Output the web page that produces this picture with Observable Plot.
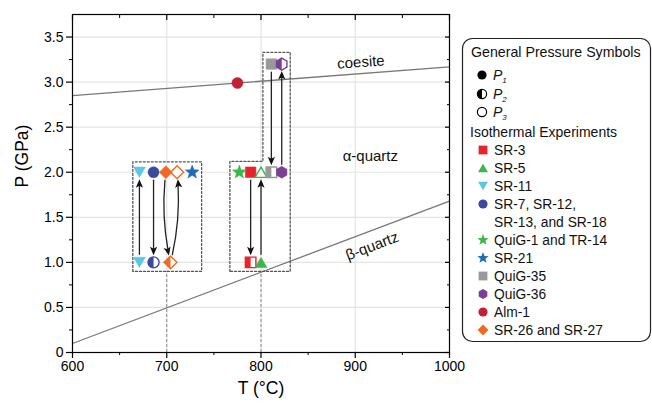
<!DOCTYPE html>
<html>
<head>
<meta charset="utf-8">
<script src="https://cdn.jsdelivr.net/npm/d3@7"></script>
<script src="https://cdn.jsdelivr.net/npm/@observablehq/plot@0.6"></script>
<style>
  html, body { margin: 0; padding: 0; background: #fff; }
  #wrap { position: relative; width: 652px; height: 404px; }
  #wrap svg { position: absolute; left: 0; top: 0; }
</style>
</head>
<body>
<div id="wrap"></div>
<script>
// Samples: id, legend label, colour, marker shape
const sampleIds = ["SR-3", "SR-5", "SR-11", "SR-7", "QuiG-1", "SR-21", "QuiG-35", "QuiG-36", "Alm-1", "SR-26"];
const sampleLabels = ["SR-3", "SR-5", "SR-11", "SR-7, SR-12,|SR-13, and SR-18", "QuiG-1 and TR-14", "SR-21", "QuiG-35", "QuiG-36", "Alm-1", "SR-26 and SR-27"];
const sampleColors = ["#e8232b", "#3db54a", "#5cc6e6", "#3a4b9f", "#3db54a", "#1b6cb5", "#999999", "#7b3f98", "#c41f35", "#f26a21"];
const sampleShapes = ["square", "triangle", "triangleDown", "circle", "star", "star", "square", "hexagon", "circle", "diamond"];

// Experiments: temperature (°C), pressure (GPa), sample, pressure step (P1 full, P2 half, P3 open)
const pointT = [671, 686, 699, 711, 727, 671, 686, 704, 777, 789, 800, 811, 822, 789, 800, 811, 822, 775];
const pointP = [2.0, 2.0, 2.0, 2.0, 2.0, 1.0, 1.0, 1.0, 2.0, 2.0, 2.0, 2.0, 2.0, 1.0, 1.0, 3.2, 3.2, 2.99];
const pointSample = ["SR-11", "SR-7", "SR-26", "SR-26", "SR-21", "SR-11", "SR-7", "SR-26", "QuiG-1", "SR-3", "SR-5", "QuiG-35", "QuiG-36", "SR-3", "SR-5", "QuiG-35", "QuiG-36", "Alm-1"];
const pointStep = ["full", "full", "full", "open", "full", "full", "half", "half", "full", "full", "open", "half", "full", "half", "full", "full", "half", "full"];

// Pressure paths between experiments
const arrowT1 = [671, 686, 699, 704, 789, 800, 811, 822];
const arrowP1 = [1.0, 2.0, 2.0, 1.0, 2.0, 1.0, 3.2, 2.0];
const arrowT2 = [671, 686, 704, 711, 789, 800, 811, 822];
const arrowP2 = [2.0, 1.0, 1.0, 2.0, 1.0, 2.0, 2.0, 3.2];
const arrowBend = [0, 0, -10, -10, 0, 0, 0, 0];

// Phase boundaries
const coesiteT = [600, 1000], coesiteP = [2.85, 3.17];
const betaT = [600, 1000], betaP = [0.1, 1.68];

// Groupings of experiments (dashed outlines)
const boxLeftT = [664, 664, 737, 737, 664];
const boxLeftP = [0.9, 2.115, 2.115, 0.9, 0.9];
const boxRightT = [767, 767, 802, 802, 831, 831, 767];
const boxRightP = [0.9, 2.12, 2.12, 3.33, 3.33, 0.9, 0.9];
const dropT = [700, 800];
const dropP = [0, 0.9];

// Phase-field labels
const fieldNames = ["coesite", "α-quartz", "β-quartz"];
const fieldT = [906, 916, 918];
const fieldP = [3.22, 2.18, 1.18];
const fieldAngle = [-4, 0, -21];

// Axis ticks
const xTicks = [600, 700, 800, 900, 1000];
const xMinor = [650, 750, 850, 950];
const yTicks = [0, 0.5, 1.0, 1.5, 2.0, 2.5, 3.0, 3.5];
const yMinor = [0.25, 0.75, 1.25, 1.75, 2.25, 2.75, 3.25];

// Frame layout
const W = 652, H = 404, mL = 72, mR = 203, mT = 14, mB = 52;
const xDomain = [600, 1000], yDomain = [0, 3.75];
const kx = (W - mL - mR) / (xDomain[1] - xDomain[0]);
const ky = (H - mT - mB) / (yDomain[1] - yDomain[0]);

// Marker geometry, scaled from the nominal radius R
const SQ3 = Math.sqrt(3);
function poly(ctx, pts) {
  ctx.moveTo(pts[0][0], pts[0][1]);
  for (let i = 1; i < pts.length; i++) ctx.lineTo(pts[i][0], pts[i][1]);
  ctx.closePath();
}
function drawShape(ctx, kind, R, half) {
  switch (kind) {
    case "circle": {
      const r = 0.92 * R;
      if (half) { ctx.moveTo(0, -r); ctx.arc(0, 0, r, -Math.PI / 2, Math.PI / 2, true); ctx.closePath(); }
      else { ctx.moveTo(r, 0); ctx.arc(0, 0, r, 0, 2 * Math.PI); ctx.closePath(); }
      break;
    }
    case "square": {
      const a = 0.88 * R;
      poly(ctx, half ? [[-a, -a], [0, -a], [0, a], [-a, a]] : [[-a, -a], [a, -a], [a, a], [-a, a]]);
      break;
    }
    case "diamond": {
      const d = 1.08 * R;
      poly(ctx, half ? [[0, -d], [0, d], [-d, 0]] : [[0, -d], [d, 0], [0, d], [-d, 0]]);
      break;
    }
    case "triangle": {
      const c = 1.15 * R, o = c / 4;
      poly(ctx, [[0, -c + o], [c * SQ3 / 2, c / 2 + o], [-c * SQ3 / 2, c / 2 + o]]);
      break;
    }
    case "triangleDown": {
      const c = 1.15 * R, o = c / 4;
      poly(ctx, [[0, c - o], [c * SQ3 / 2, -c / 2 - o], [-c * SQ3 / 2, -c / 2 - o]]);
      break;
    }
    case "star": {
      const ro = 1.2 * R, ri = 0.5 * R, pts = [];
      for (let i = 0; i < 10; i++) {
        const a = -Math.PI / 2 + i * Math.PI / 5, r = i % 2 ? ri : ro;
        pts.push([r * Math.cos(a), r * Math.sin(a)]);
      }
      poly(ctx, pts);
      break;
    }
    case "hexagon": {
      const r = 1.0 * R, w = r * SQ3 / 2;
      poly(ctx, half ? [[0, -r], [0, r], [-w, r / 2], [-w, -r / 2]]
                     : [[0, -r], [w, -r / 2], [w, r / 2], [0, r], [-w, r / 2], [-w, -r / 2]]);
      break;
    }
  }
}
const symbolOf = (kind, half) => ({draw(ctx, size) { drawShape(ctx, kind, Math.sqrt(size / Math.PI), half); }});

// Solid arrowhead pointing up, its tip set back from the marker centre
const headSymbol = {draw(ctx) {
  const tip = 7, len = 8.5, w = 3.6, notch = 6.5;
  poly(ctx, [[0, tip], [w, tip + len], [0, tip + notch], [-w, tip + len]]);
}};

const points = pointT.map((T, i) => ({T, P: pointP[i], sample: pointSample[i], step: pointStep[i]}));
const arrows = arrowT1.map((T1, i) => {
  const chord = Math.atan2(-(arrowP2[i] - arrowP1[i]) * ky, (arrowT2[i] - T1) * kx) * 180 / Math.PI;
  return {T1, P1: arrowP1[i], T2: arrowT2[i], P2: arrowP2[i], bend: arrowBend[i], angle: chord + arrowBend[i] + 90};
});
const line = (T, P) => T.map((t, i) => ({T: t, P: P[i]}));

// One set of dot marks per sample: outline, half fill, full fill
const dotMarks = sampleIds.flatMap((id, k) => {
  const color = sampleColors[k], kind = sampleShapes[k];
  const rows = points.filter(d => d.sample === id);
  const outlined = rows.filter(d => d.step !== "full");
  const halves = rows.filter(d => d.step === "half");
  const full = rows.filter(d => d.step === "full");
  const R = 6;
  return [
    Plot.dot(outlined, {x: "T", y: "P", r: R, symbol: symbolOf(kind, false), fill: "white", stroke: color, strokeWidth: 1.4}),
    Plot.dot(halves, {x: "T", y: "P", r: R, symbol: symbolOf(kind, true), fill: color, stroke: "none"}),
    Plot.dot(full, {x: "T", y: "P", r: R, symbol: symbolOf(kind, false), fill: color, stroke: color, strokeWidth: 0.5})
  ];
});

const fmtY = d => d === 0 ? "0" : d.toFixed(1);
const fmtX = d => String(d);
const blank = () => "";
const font = "Liberation Sans, Arial, Helvetica, sans-serif";

const chart = Plot.plot({
  width: W,
  height: H,
  marginLeft: mL,
  marginRight: mR,
  marginTop: mT,
  marginBottom: mB,
  x: {domain: xDomain},
  y: {domain: yDomain},
  style: {fontFamily: font, fontSize: "13.5px", color: "#000", background: "transparent"},
  marks: [
    Plot.gridX([700, 800, 900], {stroke: "#e4e4e4", strokeOpacity: 1, strokeWidth: 1.2}),
    Plot.gridY(yTicks.slice(1), {stroke: "#e4e4e4", strokeOpacity: 1, strokeWidth: 1.2}),
    Plot.line(line(coesiteT, coesiteP), {x: "T", y: "P", stroke: "#777", strokeWidth: 1.3}),
    Plot.line(line(betaT, betaP), {x: "T", y: "P", stroke: "#777", strokeWidth: 1.3}),
    Plot.ruleX(dropT, {y1: dropP[0], y2: dropP[1], stroke: "#888", strokeDasharray: "3,2", strokeWidth: 1}),
    Plot.line(line(boxLeftT, boxLeftP), {x: "T", y: "P", stroke: "#555", strokeWidth: 1.3, strokeDasharray: "2,2"}),
    Plot.line(line(boxRightT, boxRightP), {x: "T", y: "P", stroke: "#555", strokeWidth: 1.3, strokeDasharray: "2,2"}),
    Plot.text(fieldNames, {x: (d, i) => fieldT[i], y: (d, i) => fieldP[i], rotate: (d, i) => fieldAngle[i], text: d => d, fontSize: 15, fill: "#111"}),
    ...arrows.map(a => Plot.arrow([a], {x1: "T1", y1: "P1", x2: "T2", y2: "P2", bend: a.bend, stroke: "#222", strokeWidth: 1.3, headLength: 0, insetStart: 8, insetEnd: 12})),
    Plot.dot(arrows, {x: "T2", y: "P2", r: 4, symbol: headSymbol, rotate: "angle", fill: "#111", stroke: "none"}),
    ...dotMarks,
    Plot.frame({stroke: "#000", strokeWidth: 1.2}),
    Plot.axisX(xTicks, {tickSize: 6, tickPadding: 3, tickFormat: fmtX, label: null, fontSize: 14, strokeWidth: 1.2}),
    Plot.axisX(xMinor, {tickSize: 3, tickFormat: blank, label: null}),
    Plot.axisX(xTicks, {anchor: "top", tickSize: -5, tickFormat: blank, label: null, strokeWidth: 1.2}),
    Plot.axisX(xMinor, {anchor: "top", tickSize: -3, tickFormat: blank, label: null}),
    Plot.axisY(yTicks, {tickSize: 6, tickPadding: 3, tickFormat: fmtY, label: null, fontSize: 14, strokeWidth: 1.2}),
    Plot.axisY(yMinor, {tickSize: 3, tickFormat: blank, label: null}),
    Plot.axisY(yTicks, {anchor: "right", tickSize: -5, tickFormat: blank, label: null, strokeWidth: 1.2}),
    Plot.axisY(yMinor, {anchor: "right", tickSize: -3, tickFormat: blank, label: null}),
    Plot.text(["T (°C)"], {frameAnchor: "bottom", dy: 41, fontSize: 17.5, fill: "#000"}),
    Plot.text(["P (GPa)"], {frameAnchor: "left", dx: -50, dy: 4, rotate: -90, fontSize: 17.5, fill: "#000"})
  ]
});
document.getElementById("wrap").appendChild(chart);

// Legend box to the right of the plot
const legend = d3.select("#wrap").append("svg")
  .attr("width", W).attr("height", H)
  .style("font-family", font);
legend.append("rect")
  .attr("x", 462.5).attr("y", 38.5).attr("width", 188).attr("height", 303)
  .attr("rx", 10).attr("fill", "white").attr("stroke", "#222").attr("stroke-width", 1.2);

const legText = (x, y, s, size) => legend.append("text").attr("x", x).attr("y", y)
  .attr("dominant-baseline", "central").attr("font-size", size).attr("fill", "#111").text(s);
const legSym = (x, y, kind, half, fill, stroke) => legend.append("path")
  .attr("transform", `translate(${x},${y})`)
  .attr("d", (() => { const p = d3.path(); drawShape(p, kind, 5, half); return p.toString(); })())
  .attr("fill", fill).attr("stroke", stroke || "none").attr("stroke-width", 1.2);

legText(471, 52, "General Pressure Symbols", 14.2);
const steps = [["full", "1", 75], ["half", "2", 94], ["open", "3", 112]];
for (const [step, sub, y] of steps) {
  if (step === "full") legSym(482, y, "circle", false, "#000");
  else {
    legSym(482, y, "circle", false, "white", "#000");
    if (step === "half") legSym(482, y, "circle", true, "#000");
  }
  const t = legend.append("text").attr("x", 493).attr("y", y).attr("dominant-baseline", "central")
    .attr("font-size", 14).attr("font-style", "italic").attr("fill", "#111");
  t.append("tspan").text("P");
  t.append("tspan").attr("dy", 5).attr("font-size", 8).text(sub);
}
legText(470, 132, "Isothermal Experiments", 14);
let ly = 150;
sampleIds.forEach((id, k) => {
  legSym(483, ly, sampleShapes[k], false, sampleColors[k]);
  const lines = sampleLabels[k].split("|");
  lines.forEach((s, j) => legText(494, ly + j * 18, s, 13.8));
  ly += 18 * lines.length;
});
</script>
</body>
</html>
